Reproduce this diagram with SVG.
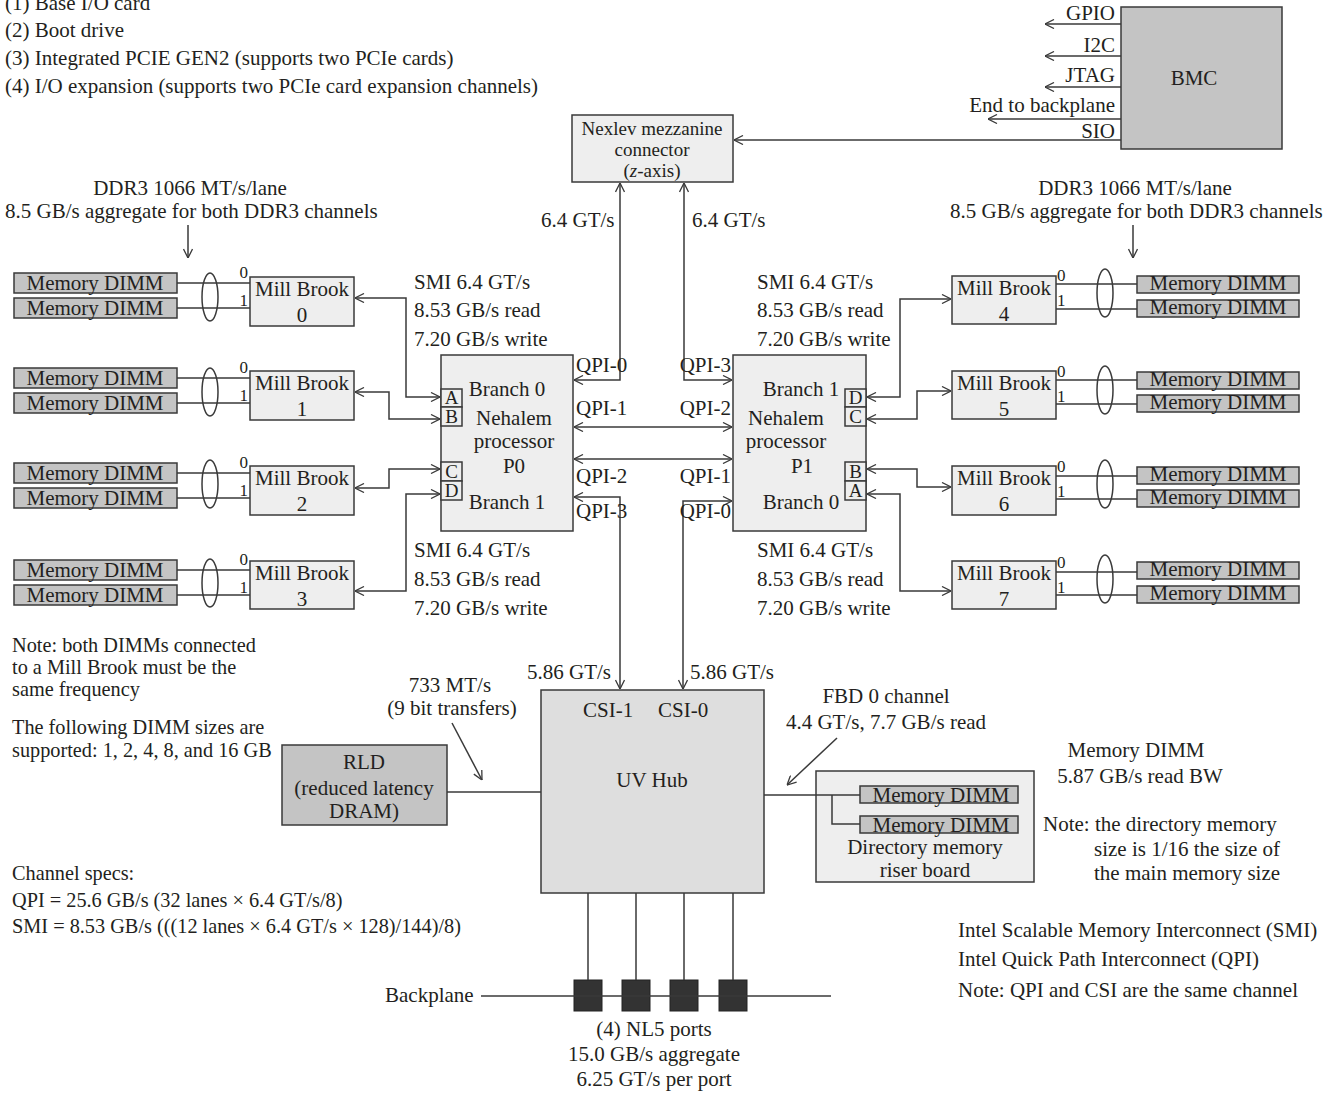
<svg xmlns="http://www.w3.org/2000/svg" width="1337" height="1094" viewBox="0 0 1337 1094">
<style>
text{font-family:"Liberation Serif","Times New Roman",serif;font-size:21px;fill:#231f20}
.m{text-anchor:middle}
.e{text-anchor:end}
.s{font-size:17px}
.p{font-size:19px}
.n{font-size:20.3px}
.nx{font-size:19px}
.ln{stroke:#3a3a3a;stroke-width:1.5;fill:none}
.lt{fill:#eeeeee;stroke:#3a3a3a;stroke-width:1.5}
.hub{fill:#dedede;stroke:#3a3a3a;stroke-width:1.5}
.dk{fill:#c4c4c4;stroke:#3a3a3a;stroke-width:1.5}
.port{fill:#333333;stroke:#222;stroke-width:1}
.el{fill:none;stroke:#3a3a3a;stroke-width:1.5}
</style>
<defs>
<marker id="ar" viewBox="0 0 10 10" refX="10" refY="5" markerWidth="10" markerHeight="10" markerUnits="userSpaceOnUse" orient="auto-start-reverse">
<path d="M1,0.5 L10,5 L1,9.5" fill="none" stroke="#3a3a3a" stroke-width="1.3"/>
</marker>
</defs>

<!-- top-left notes -->
<g id="notes-top">
<text x="5" y="10">(1) Base I/O card</text>
<text x="5" y="37">(2) Boot drive</text>
<text x="5" y="65">(3) Integrated PCIE GEN2 (supports two PCIe cards)</text>
<text x="5" y="93">(4) I/O expansion (supports two PCIe card expansion channels)</text>
</g>

<!-- BMC -->
<g id="bmc">
<rect class="dk" x="1121" y="7" width="161" height="142"/>
<text class="m" x="1194" y="85">BMC</text>
<text class="e" x="1115" y="20">GPIO</text>
<text class="e" x="1115" y="52">I2C</text>
<text class="e" x="1115" y="82">JTAG</text>
<text class="e" x="1115" y="112">End to backplane</text>
<text class="e" x="1115" y="138">SIO</text>
</g>

<!-- Nexlev -->
<g id="nexlev">
<rect class="lt" x="572" y="115" width="161" height="67"/>
<text class="m nx" x="652" y="135">Nexlev mezzanine</text>
<text class="m nx" x="652" y="156">connector</text>
<text class="m nx" x="652" y="177">(<tspan font-style="italic">z</tspan>-axis)</text>
</g>

<!-- processors -->
<g id="p0">
<rect class="lt" x="441" y="355" width="132" height="176"/>
<rect class="lt" x="441" y="389" width="21" height="18"/>
<rect class="lt" x="441" y="407" width="21" height="19"/>
<rect class="lt" x="441" y="462" width="21" height="19"/>
<rect class="lt" x="441" y="481" width="21" height="19"/>
<text class="m p" x="451.5" y="404">A</text>
<text class="m p" x="451.5" y="423">B</text>
<text class="m p" x="451.5" y="478">C</text>
<text class="m p" x="451.5" y="497">D</text>
<text class="m" x="507" y="396">Branch 0</text>
<text class="m" x="514" y="425">Nehalem</text>
<text class="m" x="514" y="448">processor</text>
<text class="m" x="514" y="473">P0</text>
<text class="m" x="507" y="509">Branch 1</text>
</g>
<g id="p1">
<rect class="lt" x="733" y="355" width="133" height="176"/>
<rect class="lt" x="845" y="389" width="21" height="18"/>
<rect class="lt" x="845" y="407" width="21" height="19"/>
<rect class="lt" x="845" y="462" width="21" height="19"/>
<rect class="lt" x="845" y="481" width="21" height="19"/>
<text class="m p" x="855.5" y="404">D</text>
<text class="m p" x="855.5" y="423">C</text>
<text class="m p" x="855.5" y="478">B</text>
<text class="m p" x="855.5" y="497">A</text>
<text class="m" x="801" y="396">Branch 1</text>
<text class="m" x="786" y="425">Nehalem</text>
<text class="m" x="786" y="448">processor</text>
<text class="m" x="802" y="473">P1</text>
<text class="m" x="801" y="509">Branch 0</text>
</g>

<!-- Mill Brooks left -->
<g id="mb0"><rect class="lt" x="250" y="277" width="104" height="49"/><text class="m" x="302" y="296">Mill Brook</text><text class="m" x="302" y="322">0</text></g>
<g id="mb1"><rect class="lt" x="250" y="371" width="104" height="49"/><text class="m" x="302" y="390">Mill Brook</text><text class="m" x="302" y="416">1</text></g>
<g id="mb2"><rect class="lt" x="250" y="466" width="104" height="49"/><text class="m" x="302" y="485">Mill Brook</text><text class="m" x="302" y="511">2</text></g>
<g id="mb3"><rect class="lt" x="250" y="561" width="104" height="48"/><text class="m" x="302" y="580">Mill Brook</text><text class="m" x="302" y="606">3</text></g>
<!-- Mill Brooks right -->
<g id="mb4"><rect class="lt" x="952" y="276" width="104" height="48"/><text class="m" x="1004" y="295">Mill Brook</text><text class="m" x="1004" y="321">4</text></g>
<g id="mb5"><rect class="lt" x="952" y="371" width="104" height="48"/><text class="m" x="1004" y="390">Mill Brook</text><text class="m" x="1004" y="416">5</text></g>
<g id="mb6"><rect class="lt" x="952" y="466" width="104" height="49"/><text class="m" x="1004" y="485">Mill Brook</text><text class="m" x="1004" y="511">6</text></g>
<g id="mb7"><rect class="lt" x="952" y="561" width="104" height="48"/><text class="m" x="1004" y="580">Mill Brook</text><text class="m" x="1004" y="606">7</text></g>

<!-- DIMMs left -->
<g id="dimms-left">
<rect class="dk" x="14" y="273" width="163" height="20"/><text class="m" x="95" y="290">Memory DIMM</text>
<rect class="dk" x="14" y="298" width="163" height="20"/><text class="m" x="95" y="315">Memory DIMM</text>
<rect class="dk" x="14" y="368" width="163" height="20"/><text class="m" x="95" y="385">Memory DIMM</text>
<rect class="dk" x="14" y="393" width="163" height="20"/><text class="m" x="95" y="410">Memory DIMM</text>
<rect class="dk" x="14" y="463" width="163" height="20"/><text class="m" x="95" y="480">Memory DIMM</text>
<rect class="dk" x="14" y="488" width="163" height="20"/><text class="m" x="95" y="505">Memory DIMM</text>
<rect class="dk" x="14" y="560" width="163" height="20"/><text class="m" x="95" y="577">Memory DIMM</text>
<rect class="dk" x="14" y="585" width="163" height="20"/><text class="m" x="95" y="602">Memory DIMM</text>
</g>
<!-- DIMMs right -->
<g id="dimms-right">
<rect class="dk" x="1137" y="276" width="162" height="17"/><text class="m" x="1218" y="290">Memory DIMM</text>
<rect class="dk" x="1137" y="300" width="162" height="17"/><text class="m" x="1218" y="314">Memory DIMM</text>
<rect class="dk" x="1137" y="372" width="162" height="17"/><text class="m" x="1218" y="386">Memory DIMM</text>
<rect class="dk" x="1137" y="395" width="162" height="17"/><text class="m" x="1218" y="409">Memory DIMM</text>
<rect class="dk" x="1137" y="467" width="162" height="17"/><text class="m" x="1218" y="481">Memory DIMM</text>
<rect class="dk" x="1137" y="490" width="162" height="17"/><text class="m" x="1218" y="504">Memory DIMM</text>
<rect class="dk" x="1137" y="562" width="162" height="17"/><text class="m" x="1218" y="576">Memory DIMM</text>
<rect class="dk" x="1137" y="586" width="162" height="17"/><text class="m" x="1218" y="600">Memory DIMM</text>
</g>

<!-- UV Hub -->
<g id="uvhub">
<rect class="hub" x="541" y="690" width="223" height="203"/>
<text x="583" y="717">CSI-1</text>
<text x="658" y="717">CSI-0</text>
<text class="m" x="652" y="787">UV Hub</text>
</g>

<!-- RLD -->
<g id="rld">
<rect class="dk" x="282" y="745" width="165" height="80"/>
<text class="m" x="364" y="769">RLD</text>
<text class="m" x="364" y="795">(reduced latency</text>
<text class="m" x="364" y="818">DRAM)</text>
</g>

<!-- riser -->
<g id="riser">
<rect class="lt" x="816" y="771" width="218" height="111"/>
<rect class="dk" x="860" y="786" width="158" height="17"/><text class="m" x="941" y="802">Memory DIMM</text>
<rect class="dk" x="860" y="816" width="158" height="17"/><text class="m" x="941" y="832">Memory DIMM</text>
<text class="m" x="925" y="854">Directory memory</text>
<text class="m" x="925" y="877">riser board</text>
</g>

<!-- ports -->
<g id="ports">
<rect class="port" x="574" y="980" width="28" height="31"/>
<rect class="port" x="622" y="980" width="28" height="31"/>
<rect class="port" x="670" y="980" width="28" height="31"/>
<rect class="port" x="719" y="980" width="28" height="31"/>
</g>

<!-- connectors -->
<g id="connectors">
<line class="ln" x1="1121" y1="24" x2="1045" y2="24" marker-end="url(#ar)"/>
<line class="ln" x1="1121" y1="56" x2="1045" y2="56" marker-end="url(#ar)"/>
<line class="ln" x1="1121" y1="87" x2="1045" y2="87" marker-end="url(#ar)"/>
<line class="ln" x1="1121" y1="119" x2="988" y2="119" marker-end="url(#ar)"/>
<line class="ln" x1="1121" y1="140" x2="734" y2="140" marker-end="url(#ar)"/>
<path class="ln" d="M620,183 V380 H574" marker-start="url(#ar)" marker-end="url(#ar)"/>
<path class="ln" d="M684,183 V380 H732" marker-start="url(#ar)" marker-end="url(#ar)"/>
<line class="ln" x1="574" y1="427" x2="732" y2="427" marker-start="url(#ar)" marker-end="url(#ar)"/>
<line class="ln" x1="574" y1="459" x2="732" y2="459" marker-start="url(#ar)" marker-end="url(#ar)"/>
<path class="ln" d="M574,497 H620 V689" marker-start="url(#ar)" marker-end="url(#ar)"/>
<path class="ln" d="M732,501 H683 V689" marker-start="url(#ar)" marker-end="url(#ar)"/>
<path class="ln" d="M355,298 H406 V397 H440" marker-start="url(#ar)" marker-end="url(#ar)"/>
<path class="ln" d="M355,392 H389 V419 H440" marker-start="url(#ar)" marker-end="url(#ar)"/>
<path class="ln" d="M355,488 H389 V469 H440" marker-start="url(#ar)" marker-end="url(#ar)"/>
<path class="ln" d="M355,591 H406 V494 H440" marker-start="url(#ar)" marker-end="url(#ar)"/>
<path class="ln" d="M867,397 H900 V299 H951" marker-start="url(#ar)" marker-end="url(#ar)"/>
<path class="ln" d="M867,419 H917 V391 H951" marker-start="url(#ar)" marker-end="url(#ar)"/>
<path class="ln" d="M867,469 H917 V487 H951" marker-start="url(#ar)" marker-end="url(#ar)"/>
<path class="ln" d="M867,494 H900 V591 H951" marker-start="url(#ar)" marker-end="url(#ar)"/>
<path class="ln" d="M177,283 H250 M177,308 H250 M177,378 H250 M177,403 H250 M177,473 H250 M177,498 H250 M177,570 H250 M177,595 H250"/>
<path class="ln" d="M1056,284 H1137 M1056,309 H1137 M1056,380 H1137 M1056,404 H1137 M1056,476 H1137 M1056,499 H1137 M1056,572 H1137 M1056,595 H1137"/>
<line class="ln" x1="188" y1="225" x2="188" y2="258" marker-end="url(#ar)"/>
<line class="ln" x1="1133" y1="225" x2="1133" y2="258" marker-end="url(#ar)"/>
<line class="ln" x1="447" y1="792" x2="541" y2="792"/>
<line class="ln" x1="452" y1="723" x2="482" y2="780" marker-end="url(#ar)"/>
<path class="ln" d="M764,795 H860 M832,795 V824 H860"/>
<line class="ln" x1="837" y1="738" x2="787" y2="785" marker-end="url(#ar)"/>
<path class="ln" d="M588,893 V980 M636,893 V980 M684,893 V980 M733,893 V980"/>
<line class="ln" x1="481" y1="996" x2="831" y2="996"/>
</g>

<g id="bundles">
<ellipse class="el" cx="210" cy="297" rx="8" ry="24"/>
<ellipse class="el" cx="210" cy="392" rx="8" ry="24"/>
<ellipse class="el" cx="210" cy="484" rx="8" ry="24"/>
<ellipse class="el" cx="210" cy="583" rx="8" ry="24"/>
<ellipse class="el" cx="1105" cy="293" rx="8" ry="24"/>
<ellipse class="el" cx="1105" cy="390" rx="8" ry="24"/>
<ellipse class="el" cx="1105" cy="484" rx="8" ry="24"/>
<ellipse class="el" cx="1105" cy="579" rx="8" ry="24"/>
</g>

<g id="labels-01">
<text class="e s" x="248" y="278">0</text><text class="e s" x="248" y="306">1</text>
<text class="e s" x="248" y="373">0</text><text class="e s" x="248" y="401">1</text>
<text class="e s" x="248" y="468">0</text><text class="e s" x="248" y="496">1</text>
<text class="e s" x="248" y="565">0</text><text class="e s" x="248" y="593">1</text>
<text class="s" x="1057" y="281">0</text><text class="s" x="1057" y="306">1</text>
<text class="s" x="1057" y="377">0</text><text class="s" x="1057" y="402">1</text>
<text class="s" x="1057" y="472">0</text><text class="s" x="1057" y="497">1</text>
<text class="s" x="1057" y="568">0</text><text class="s" x="1057" y="593">1</text>
</g>

<g id="link-labels">
<text class="m" x="190" y="195">DDR3 1066 MT/s/lane</text>
<text x="5" y="218">8.5 GB/s aggregate for both DDR3 channels</text>
<text class="m" x="1135" y="195">DDR3 1066 MT/s/lane</text>
<text x="950" y="218">8.5 GB/s aggregate for both DDR3 channels</text>
<text x="541" y="227">6.4 GT/s</text>
<text x="692" y="227">6.4 GT/s</text>
<text x="414" y="289">SMI 6.4 GT/s</text>
<text x="414" y="317">8.53 GB/s read</text>
<text x="414" y="346">7.20 GB/s write</text>
<text x="757" y="289">SMI 6.4 GT/s</text>
<text x="757" y="317">8.53 GB/s read</text>
<text x="757" y="346">7.20 GB/s write</text>
<text x="414" y="557">SMI 6.4 GT/s</text>
<text x="414" y="586">8.53 GB/s read</text>
<text x="414" y="615">7.20 GB/s write</text>
<text x="757" y="557">SMI 6.4 GT/s</text>
<text x="757" y="586">8.53 GB/s read</text>
<text x="757" y="615">7.20 GB/s write</text>
<text x="576" y="372">QPI-0</text>
<text x="576" y="415">QPI-1</text>
<text x="576" y="483">QPI-2</text>
<text x="576" y="518">QPI-3</text>
<text class="e" x="731" y="372">QPI-3</text>
<text class="e" x="731" y="415">QPI-2</text>
<text class="e" x="731" y="483">QPI-1</text>
<text class="e" x="731" y="518">QPI-0</text>
<text x="527" y="679">5.86 GT/s</text>
<text x="690" y="679">5.86 GT/s</text>
<text class="m" x="450" y="692">733 MT/s</text>
<text class="m" x="452" y="715">(9 bit transfers)</text>
<text class="m" x="886" y="703">FBD 0 channel</text>
<text class="m" x="886" y="729">4.4 GT/s, 7.7 GB/s read</text>
<text x="385" y="1002">Backplane</text>
<text class="m" x="654" y="1036">(4) NL5 ports</text>
<text class="m" x="654" y="1061">15.0 GB/s aggregate</text>
<text class="m" x="654" y="1086">6.25 GT/s per port</text>
</g>

<g id="notes">
<text class="n" x="12" y="652">Note: both DIMMs connected</text>
<text class="n" x="12" y="674">to a Mill Brook must be the</text>
<text class="n" x="12" y="696">same frequency</text>
<text class="n" x="12" y="734">The following DIMM sizes are</text>
<text class="n" x="12" y="757">supported: 1, 2, 4, 8, and 16 GB</text>
<text class="n" x="12" y="880">Channel specs:</text>
<text class="n" x="12" y="907">QPI = 25.6 GB/s (32 lanes × 6.4 GT/s/8)</text>
<text class="n" x="12" y="933">SMI = 8.53 GB/s (((12 lanes × 6.4 GT/s × 128)/144)/8)</text>
<text class="m" x="1136" y="757">Memory DIMM</text>
<text class="m" x="1140" y="783">5.87 GB/s read BW</text>
<text x="1043" y="831">Note: the directory memory</text>
<text x="1094" y="856">size is 1/16 the size of</text>
<text x="1094" y="880">the main memory size</text>
<text x="958" y="937">Intel Scalable Memory Interconnect (SMI)</text>
<text x="958" y="966">Intel Quick Path Interconnect (QPI)</text>
<text x="958" y="997">Note: QPI and CSI are the same channel</text>
</g>
</svg>
